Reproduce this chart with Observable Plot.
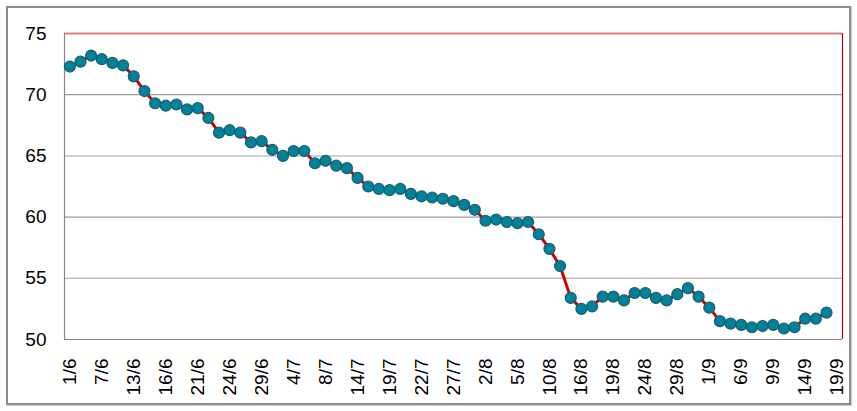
<!DOCTYPE html>
<html>
<head>
<meta charset="utf-8">
<script src="https://cdn.jsdelivr.net/npm/d3@7"></script>
<script src="https://cdn.jsdelivr.net/npm/@observablehq/plot@0.6"></script>
<style>
  html, body { margin: 0; padding: 0; background: #fff; }
  #wrap { position: relative; width: 857px; height: 411px; overflow: hidden; }
  #frame { position: absolute; left: 6px; top: 6px; width: 841px; height: 395px;
           border: 2px solid #8c8c8c; box-shadow: 1px 1px 1px #d0d0d0; pointer-events: none; }
  #chart { position: absolute; left: 0; top: 0; }
  #chart svg text { font-family: 'Liberation Sans', Arial, sans-serif !important; font-size: 19px !important; fill: #000; }
</style>
</head>
<body>
<div id="wrap"><div id="chart"></div><div id="frame"></div></div>
<script>
// Tick labels: one every 3 categories (73 categories, 72 with data)
const tickLabels = ["1/6","7/6","13/6","16/6","21/6","24/6","29/6","4/7","8/7","14/7","19/7","22/7","27/7",
  "2/8","5/8","10/8","16/8","19/8","24/8","29/8","1/9","6/9","9/9","14/9","19/9"];
const categoryCount = 73;

// Series values
const values = [
  72.3, 72.7, 73.2, 72.9, 72.6, 72.4, 71.5, 70.3, 69.3, 69.1, 69.2, 68.8, 68.9,
  68.1, 66.9, 67.1, 66.9, 66.1, 66.2, 65.5, 65.0, 65.4, 65.4, 64.4, 64.6,
  64.2, 64.0, 63.2, 62.5, 62.3, 62.2, 62.3, 61.9, 61.7, 61.6, 61.5, 61.3,
  61.0, 60.6, 59.7, 59.8, 59.6, 59.5, 59.6, 58.6, 57.4, 56.0, 53.4, 52.5,
  52.7, 53.5, 53.5, 53.2, 53.8, 53.8, 53.4, 53.2, 53.7, 54.2, 53.5, 52.6, 51.5,
  51.3, 51.2, 51.0, 51.1, 51.2, 50.9, 51.0, 51.7, 51.7, 52.2
];
const yTicks = [50, 55, 60, 65, 70, 75];

const data = values.map((v, i) => ({i, v}));

const chart = Plot.plot({
  width: 857,
  height: 411,
  marginLeft: 64,
  marginRight: 15,
  marginTop: 33,
  marginBottom: 72,
  style: {background: "transparent"},
  x: {type: "linear", domain: [-0.5, categoryCount - 0.5], axis: null},
  y: {domain: [50, 75], axis: null},
  marks: [
    Plot.ruleY([55, 65], {stroke: "#c0c0c0", strokeWidth: 1.5}),
    Plot.ruleY([60, 70], {stroke: "#858585", strokeWidth: 1}),
    Plot.ruleY([75], {stroke: "#e07c7c", strokeWidth: 2}),
    Plot.ruleY([50], {stroke: "#858585", strokeWidth: 1.2}),
    Plot.ruleX([-0.5], {stroke: "#858585", strokeWidth: 1.2}),
    Plot.ruleX([categoryCount - 0.5], {stroke: "#c00000", strokeWidth: 1.2}),
    Plot.axisY({ticks: yTicks, tickSize: 0, tickPadding: 18, label: null}),
    Plot.axisX({
      ticks: tickLabels.map((_, k) => k * 3),
      tickFormat: d => tickLabels[Math.round(d / 3)],
      tickSize: 0, tickPadding: 19, tickRotate: -90, label: null
    }),
    Plot.line(data, {x: "i", y: "v", stroke: "#d00000", strokeWidth: 3}),
    Plot.dot(data, {x: "i", y: "v", r: 5.5, fill: "#00829a", stroke: "#1b5c6b", strokeWidth: 1.2})
  ]
});
document.getElementById("chart").appendChild(chart);
</script>
</body>
</html>
